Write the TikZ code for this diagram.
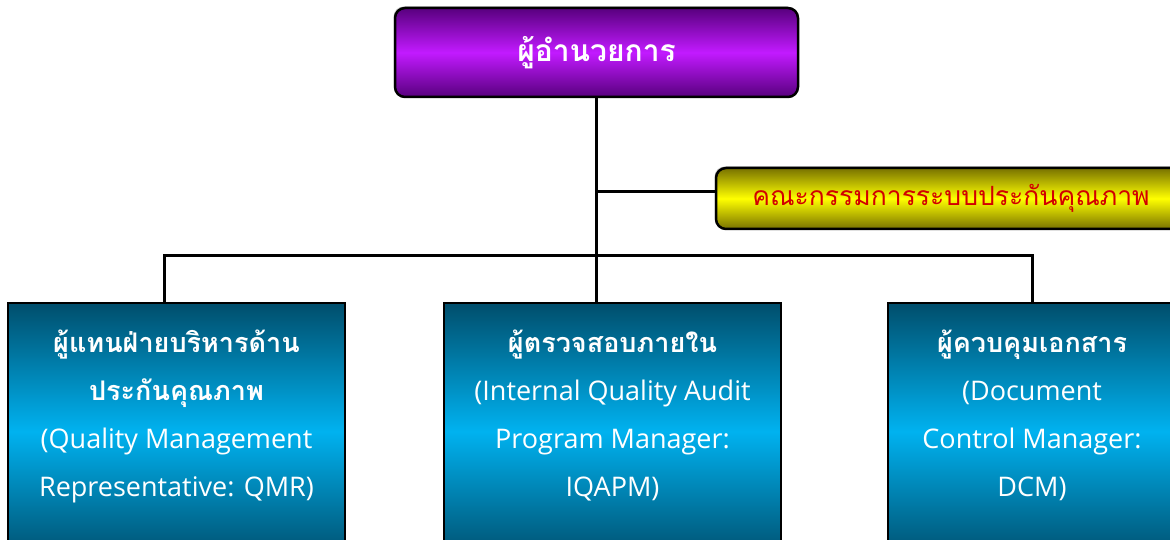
\documentclass[tikz,border=0pt]{standalone}
\usepackage{fontspec}
\setmainfont{Open Sans}
\newfontfamily\thaifont[Script=Thai]{Loma}
\usetikzlibrary{positioning,shadows}

\definecolor{bossdark}{RGB}{88,0,126}
\definecolor{bosslight}{RGB}{194,26,255}
\definecolor{qadark}{RGB}{120,114,0}
\definecolor{qalight}{RGB}{255,255,0}
\definecolor{qared}{RGB}{210,0,0}
\definecolor{unitdark}{RGB}{0,78,108}
\definecolor{unitlight}{RGB}{0,178,240}

\newcommand{\thb}[1]{{\thaifont\bfseries #1}}

\begin{document}
\begin{tikzpicture}[x=1pt,y=1pt,
	boss/.style={rectangle, rounded corners=10pt, draw=black, line width=2.5pt, top color=bossdark, bottom color=bossdark, middle color=bosslight, minimum width=403pt, minimum height=89pt, inner sep=0pt, text=white, font=\thaifont\bfseries\fontsize{30}{38}\selectfont, drop shadow={shadow xshift=-1.5pt, shadow yshift=1.5pt, fill=black!40}},
	panel/.style={rectangle, rounded corners=10pt, draw=black, line width=2.5pt, top color=qadark, bottom color=qadark, middle color=qalight, minimum width=470pt, minimum height=61pt, inner sep=0pt, text=qared, font=\thaifont\fontsize{26.5}{34}\selectfont, drop shadow={shadow xshift=-1.5pt, shadow yshift=1.5pt, fill=black!40}},
	unit/.style={rectangle, draw=black, line width=2.5pt, top color=unitdark, bottom color=unitdark, middle color=unitlight, minimum height=257pt, inner sep=0pt},
	caption/.style={align=center, text=white, inner sep=0pt, font=\fontsize{27}{48}\selectfont},
	wire/.style={draw=black, line width=3pt}]

	\useasboundingbox (0,0) rectangle (1170,540);
	\clip (0,0) rectangle (1170,540);

	% boxes
	\node at (596.5,487.5) [boss] (dir) {ผู้อำนวยการ};
	\node at (951,341.5) [panel] (qa) {คณะกรรมการระบบประกันคุณภาพ};
	\node at (176.5,108.5) [unit, minimum width=337pt] (qmr) {};
	\node at (612.5,108.5) [unit, minimum width=337pt] (iqa) {};
	\node at (1032,108.5) [unit, minimum width=288pt] (dcm) {};

	% texts in the boxes
	\node [caption, below=28pt of qmr.north] (qmrtext) {\thb{ผู้แทนฝ่ายบริหารด้าน}\\ \thb{ประกันคุณภาพ}\\ (Quality Management\\ Representative: QMR)};
	\node [caption, below=28pt of iqa.north] (iqatext) {\thb{ผู้ตรวจสอบภายใน}\\ (Internal Quality Audit\\ Program Manager:\\ IQAPM)};
	\node [caption, below=28pt of dcm.north] (dcmtext) {\thb{ผู้ควบคุมเอกสาร}\\ (Document\\ Control Manager:\\ DCM)};

	% connectors
	\coordinate (tap) at (596.5,348);
	\coordinate (busL) at (164,284);
	\coordinate (busR) at (1032,284);
	\draw[wire] (dir.south) -- (dir.south |- iqa.north);
	\draw[wire] (tap) -- (tap -| qa.west);
	\draw[wire] (busL |- qmr.north) -- (busL) -- (busR) -- (busR |- dcm.north);
\end{tikzpicture}
\end{document}
